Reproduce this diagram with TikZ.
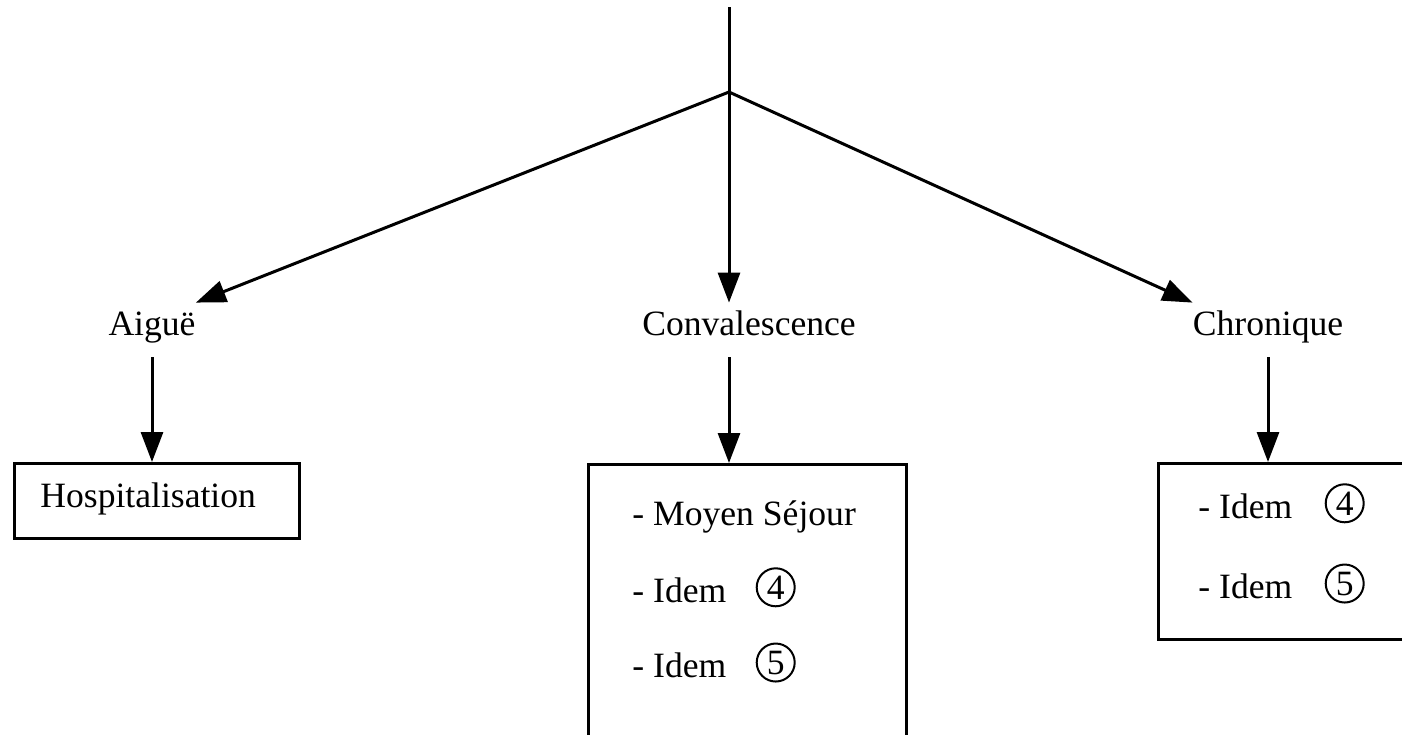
\documentclass[tikz,border=0pt]{standalone}
\usepackage{fontspec}
\setmainfont{Liberation Serif}
\usetikzlibrary{positioning,arrows.meta}

\tikzstyle{stage} = [inner xsep=0pt, inner ysep=4pt, text height=12pt, text depth=7pt, anchor=base]
\tikzstyle{careBox} = [rectangle, draw, line width=1.5pt, anchor=north west, inner sep=0pt]
\tikzstyle{entry} = [inner sep=0pt, anchor=base west]
\tikzstyle{numCircle} = [circle, draw, line width=1pt, inner sep=0pt, minimum size=19pt, yshift=1.5pt]
\tikzstyle{flow} = [line width=1.5pt, -{Triangle[length=15pt,width=11pt]}]

\begin{document}
\begin{tikzpicture}[x=0.5pt, y=-0.5pt, font={\fontsize{17.8pt}{21pt}\selectfont}]
            \useasboundingbox (0,0) rectangle (1402,734);
            \coordinate (root) at (729,7);
            \coordinate (apex) at (729,92);
            \node[stage] (AI) at (152,335) {Aiguë};
            \node[stage] (CV) at (749,335) {Convalescence};
            \node[stage] (CH) at (1268,335) {Chronique};
            \node[careBox, minimum width=142.5pt, minimum height=37.5pt] (HB) at (13,462) {};
            \node[careBox, minimum width=159pt, minimum height=150pt] (CB) at (587,463) {};
            \node[careBox, minimum width=131.5pt, minimum height=88pt] (KB) at (1157,462) {};
            \node[entry] (HO) at (40,507) {Hospitalisation};
            \node[entry] (CM) at (632,525) {- Moyen Séjour};
            \node[entry, below=38.5pt of CM.base west, anchor=base west] (C4) {- Idem};
            \node[entry, below=37.5pt of C4.base west, anchor=base west] (C5) {- Idem};
            \node[numCircle, right=14.5pt of C4.base east, anchor=base west] (N4) {4};
            \node[numCircle, right=14.5pt of C5.base east, anchor=base west] (N5) {5};
            \node[entry] (K4) at (1198,518) {- Idem};
            \node[entry, below=40pt of K4.base west, anchor=base west] (K5) {- Idem};
            \node[numCircle, right=16pt of K4.base east, anchor=base west] (M4) {4};
            \node[numCircle, right=16pt of K5.base east, anchor=base west] (M5) {5};
            \draw[flow] (root) -- (apex |- CV.north);
            \draw[flow] (apex) -- (AI.north east);
            \draw[flow] (apex) -- (CH.north west);
            \draw[flow] (AI.south) -- (AI.south |- HB.north);
            \draw[flow] (apex |- CV.south) -- (apex |- CB.north);
            \draw[flow] (CH.south) -- (CH.south |- KB.north);
        \end{tikzpicture}
\end{document}
